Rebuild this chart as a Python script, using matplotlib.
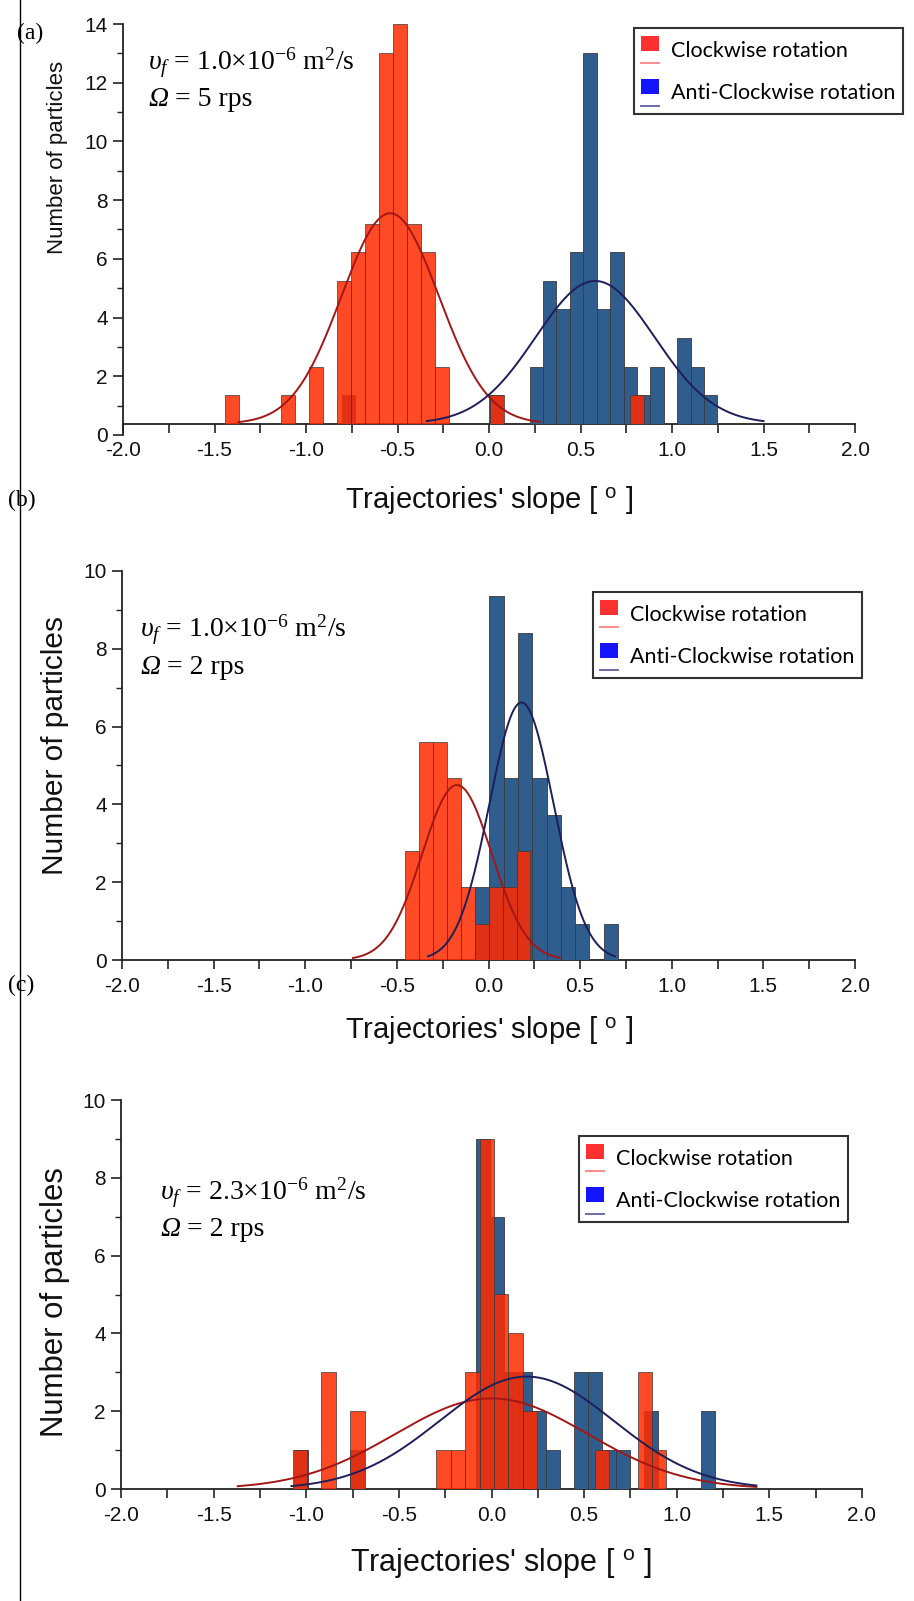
import numpy as np
import matplotlib
matplotlib.use("Agg")
import matplotlib.pyplot as plt
from matplotlib.patches import Rectangle
from matplotlib.lines import Line2D
from matplotlib.legend_handler import HandlerBase
from matplotlib.ticker import MultipleLocator, FormatStrFormatter

plt.rcParams['font.family'] = ['Liberation Sans', 'DejaVu Sans']
plt.rcParams['axes.unicode_minus'] = False
plt.rcParams['mathtext.fontset'] = 'custom'
plt.rcParams['mathtext.rm'] = 'Liberation Serif'
plt.rcParams['mathtext.it'] = 'Liberation Serif:italic'

# ---------------- data ----------------
# histogram: first bin left edge, bin width, counts of consecutive bins
# panel (a)
a_red_start, a_red_width = -1.44, 0.0762
a_red_counts = [1, 0, 0, 0, 1, 0, 2, 0, 5, 6, 7, 13, 14, 7, 6, 2, 0, 0, 0, 1,
                0, 0, 0, 0, 0, 0, 0, 0, 0, 1]
a_blue_start, a_blue_width = -0.804, 0.0733
a_blue_counts = [1, 0, 0, 0, 0, 0, 0, 0, 0, 0, 0, 1, 0, 0, 2, 5, 4, 6, 13, 4,
                 6, 2, 1, 2, 0, 3, 2, 1]
# gaussian fits: centre, sigma, amplitude, x from, x to
a_red_fit = (-0.54, 0.266, 7.37, -1.37, 0.28)
a_blue_fit = (0.58, 0.325, 5.0, -0.34, 1.50)

# panel (b)
b_red_start, b_red_width = -0.454, 0.0759
b_red_counts = [3, 6, 6, 5, 2, 1, 2, 2, 3]
b_blue_start, b_blue_width = -0.073, 0.078
b_blue_counts = [2, 10, 5, 9, 5, 4, 2, 1, 0, 1]
b_red_fit = (-0.172, 0.19, 4.81, -0.74, 0.39)
b_blue_fit = (0.18, 0.175, 7.08, -0.33, 0.69)

# panel (c)
c_red_start, c_red_width = -1.073, 0.0776
c_red_counts = [1, 0, 3, 0, 2, 0, 0, 0, 0, 0, 1, 1, 3, 9, 5, 4, 2, 0, 0, 0,
                0, 1, 0, 0, 3, 1]
c_blue_start, c_blue_width = -1.067, 0.0757
c_blue_counts = [1, 0, 0, 0, 1, 0, 0, 0, 0, 0, 0, 0, 0, 9, 7, 3, 3, 2, 1, 0,
                 3, 3, 1, 1, 0, 2, 0, 0, 0, 2]
c_red_fit = (0.0, 0.52, 2.33, -1.37, 1.43)
c_blue_fit = (0.19, 0.47, 2.89, -1.08, 1.43)

x_ticks = [-2.0, -1.5, -1.0, -0.5, 0.0, 0.5, 1.0, 1.5, 2.0]
legend_labels = ["Clockwise rotation", "Anti-Clockwise rotation"]
nu_texts = [r"$\upsilon_f$ = 1.0×10$^{-6}$ m$^{2}$/s",
            r"$\upsilon_f$ = 1.0×10$^{-6}$ m$^{2}$/s",
            r"$\upsilon_f$ = 2.3×10$^{-6}$ m$^{2}$/s"]
omega_texts = [" = 5 rps", " = 2 rps", " = 2 rps"]
xlabel = "Trajectories' slope [ $^{\\mathregular{o}}$ ]"
ylabel = "Number of particles"
panel_letters = ["(a)", "(b)", "(c)"]

# ---------------- styling ----------------
W, H, DPI = 914, 1601, 100
RED = (1.0, 0.165, 0.0)
RED_ALPHA = 0.85
BLUE = '#2F5E8E'
EDGE = '#3a3a3a'
RED_FIT = '#a31616'
BLUE_FIT = '#1e1e5a'

fig = plt.figure(figsize=(W / DPI, H / DPI), dpi=DPI)


def fx(px):
    return px / W


def fy(py):
    return 1 - py / H


class SqLineHandler(HandlerBase):
    def __init__(self, sq_color, ln_color):
        super().__init__()
        self.sq_color = sq_color
        self.ln_color = ln_color

    def create_artists(self, legend, orig_handle, xdescent, ydescent,
                       width, height, fontsize, trans):
        x0, y0 = -xdescent, -ydescent
        sq = Rectangle((x0, y0 + 0.46 * height), width, 0.52 * height,
                       facecolor=self.sq_color, edgecolor='none', transform=trans)
        ln = Line2D([x0, x0 + width], [y0 + 0.05 * height] * 2,
                    color=self.ln_color, lw=1.4, transform=trans)
        return [sq, ln]


def draw_panel(idx, left, right, top, bottom, ymax, zero_off, scale,
               red, blue, red_fit, blue_fit, text_xy, legend_xy,
               xlabel_xy, xlabel_fs, ylabel_xy, ylabel_fs, letter_xy):
    ax = fig.add_axes([fx(left), fy(bottom), fx(right) - fx(left), fy(top) - fy(bottom)])
    ax.set_xlim(-2, 2)
    ax.set_ylim(0, ymax)
    for s in ['top', 'right']:
        ax.spines[s].set_visible(False)
    ax.spines['bottom'].set_position(('data', zero_off))
    for s in ['left', 'bottom']:
        ax.spines[s].set_linewidth(1.3)
        ax.spines[s].set_color('#222222')
    ax.set_xticks(x_ticks)
    ax.xaxis.set_major_formatter(FormatStrFormatter('%.1f'))
    ax.xaxis.set_minor_locator(MultipleLocator(0.25))
    ax.yaxis.set_major_locator(MultipleLocator(2))
    ax.yaxis.set_minor_locator(MultipleLocator(1))
    ax.tick_params(axis='x', which='both', direction='out', length=6.5, width=1.2,
                   colors='#222222', labelsize=15, pad=6, labelcolor='#111111')
    ax.tick_params(axis='y', which='major', direction='out', length=7, width=1.2,
                   colors='#222222', labelsize=15, pad=4, labelcolor='#111111')
    ax.tick_params(axis='y', which='minor', direction='out', length=4, width=1.0,
                   colors='#222222')

    axb = ax.twinx()
    axb.set_ylim(-zero_off / scale, (ymax - zero_off) / scale)
    axb.axis('off')

    for (start, width, counts), color, alpha in [(blue, BLUE, 1.0), (red, RED, RED_ALPHA)]:
        counts = np.asarray(counts, dtype=float)
        lefts = start + width * np.arange(len(counts))
        m = counts > 0
        axb.bar(lefts[m], counts[m], width=width, align='edge', color=color,
                alpha=alpha, edgecolor=EDGE, linewidth=0.6)

    for (c, sg, amp, x0, x1), col in [(red_fit, RED_FIT), (blue_fit, BLUE_FIT)]:
        xs = np.linspace(x0, x1, 400)
        axb.plot(xs, amp * np.exp(-0.5 * ((xs - c) / sg) ** 2), color=col, lw=1.4)

    h1 = Rectangle((0, 0), 1, 1)
    h2 = Rectangle((0, 0), 1, 1)
    leg = axb.legend([h1, h2], legend_labels,
                     handler_map={h1: SqLineHandler('#ff3030', '#ff8a8a'),
                                  h2: SqLineHandler('#1414ff', '#6a6aa8')},
                     loc='upper left', bbox_to_anchor=(fx(legend_xy[0]), fy(legend_xy[1])),
                     bbox_transform=fig.transFigure, borderaxespad=0,
                     prop={'family': 'Lato', 'size': 15.5},
                     handlelength=0.8, handleheight=1.7, handletextpad=0.58,
                     labelspacing=0.63, borderpad=0.34, fancybox=False,
                     framealpha=1, edgecolor='#333333')
    leg.get_frame().set_linewidth(1.5)

    tx, ty = text_xy
    fig.text(fx(tx), fy(ty), nu_texts[idx], fontsize=20,
             family='Liberation Serif', va='center', ha='left')
    t_om = fig.text(fx(tx), fy(ty + 37), "Ω", fontsize=20, style='italic',
                    family='Liberation Serif', va='center', ha='left')
    ax.annotate(omega_texts[idx], xy=(1, 0), xycoords=t_om, fontsize=20,
                family='Liberation Serif', va='bottom', ha='left',
                annotation_clip=False)

    fig.text(fx(xlabel_xy[0]), fy(xlabel_xy[1]), xlabel, fontsize=xlabel_fs,
             ha='center', va='center', color='#111111')
    fig.text(fx(ylabel_xy[0]), fy(ylabel_xy[1]), ylabel, fontsize=ylabel_fs,
             ha='center', va='center', rotation=90, color='#111111')
    fig.text(fx(letter_xy[0]), fy(letter_xy[1]), panel_letters[idx], fontsize=17,
             family='Liberation Serif', ha='left', va='center')
    return ax


draw_panel(0, 123, 855, 24, 435, 14, 0.385, 0.9725,
           (a_red_start, a_red_width, a_red_counts),
           (a_blue_start, a_blue_width, a_blue_counts),
           a_red_fit, a_blue_fit, (148, 63), (634, 28),
           (489, 500), 21, (58, 157), 16, (17, 33))

draw_panel(1, 122, 855, 571, 960, 10, 0.0, 0.935,
           (b_red_start, b_red_width, b_red_counts),
           (b_blue_start, b_blue_width, b_blue_counts),
           b_red_fit, b_blue_fit, (140, 630), (593, 592),
           (489, 1030), 21, (55, 745), 21.5, (8, 500))

draw_panel(2, 121, 862, 1100, 1489, 10, 0.0, 1.0,
           (c_red_start, c_red_width, c_red_counts),
           (c_blue_start, c_blue_width, c_blue_counts),
           c_red_fit, c_blue_fit, (160, 1193), (579, 1136),
           (501, 1563), 22, (55, 1302), 22.4, (8, 985))

fig.add_artist(Line2D([fx(20), fx(20)], [0, 1], color='black', lw=1.0,
                      transform=fig.transFigure))

fig.savefig("out.png", dpi=DPI)
